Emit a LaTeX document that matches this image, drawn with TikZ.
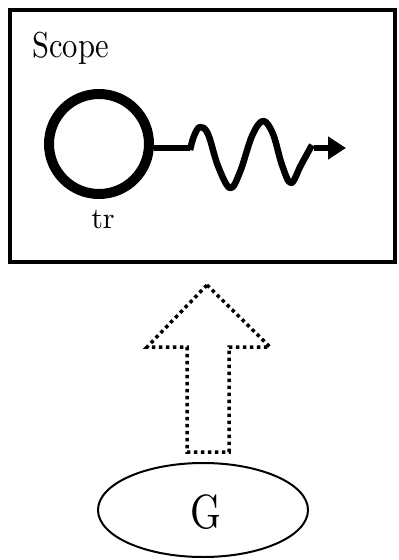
\documentclass[tikz,border=0pt]{standalone}
\usepackage{fontspec}
\setmainfont{lmroman10-regular.otf}
\usepackage{graphicx}
\usetikzlibrary{arrows.meta,shapes.geometric}
\begin{document}
\begin{tikzpicture}[x=1pt,y=-1pt,
  frame/.style={draw,line width=4.5pt,minimum width=385pt,minimum height=252pt,inner sep=0pt},
  lbl/.style={font=\fontsize{36}{40}\selectfont,inner sep=0pt},
  small/.style={font=\fontsize{30}{34}\selectfont,inner sep=0pt},
  ring/.style={circle,draw,line width=10pt,minimum size=100pt,inner sep=0pt},
  wave/.style={line width=6.5pt,line join=round},
  hollow/.style={draw,line width=3.5pt,dash pattern=on 3.5pt off 3.5pt,line join=miter},
  blob/.style={ellipse,draw,line width=2pt,minimum width=210pt,minimum height=94pt,inner sep=0pt}]
\useasboundingbox (0,0) rectangle (399,560);
\node[frame] (box) at (202.5,136) {};
\node[lbl,anchor=base west] (scope) at (32,57) {\scalebox{0.85}[1]{Scope}};
\node[ring] (tr) at (99,144) {};
\node[small,anchor=base] (trl) at (103,228) {tr};
\coordinate (w0) at (190,148);
\coordinate (w1) at (314,148);
\coordinate (tip) at (346,148);
\draw[wave] (tr.east |- w0) -- (w0);
\draw[wave] plot[smooth,tension=0.6] coordinates {(190,150) (194,136) (200,127) (208,134) (218,166) (230,188) (240,172) (252,136) (263,121) (273,134) (282,165) (291,183) (301,165) (312,145)};
\draw[wave,-{Triangle[length=18pt,width=22pt]}] (w1) -- (tip);
\draw[hollow] (207,285) -- (270,347) -- (229,347) -- (229,452) -- (187,452) -- (187,347) -- (147,347) -- cycle;
\node[blob] (G) at (203,510) {};
\node[font=\fontsize{48}{52}\selectfont,inner sep=0pt] (Gl) at (206,512) {\scalebox{0.82}[1]{G}};
\end{tikzpicture}
\end{document}
